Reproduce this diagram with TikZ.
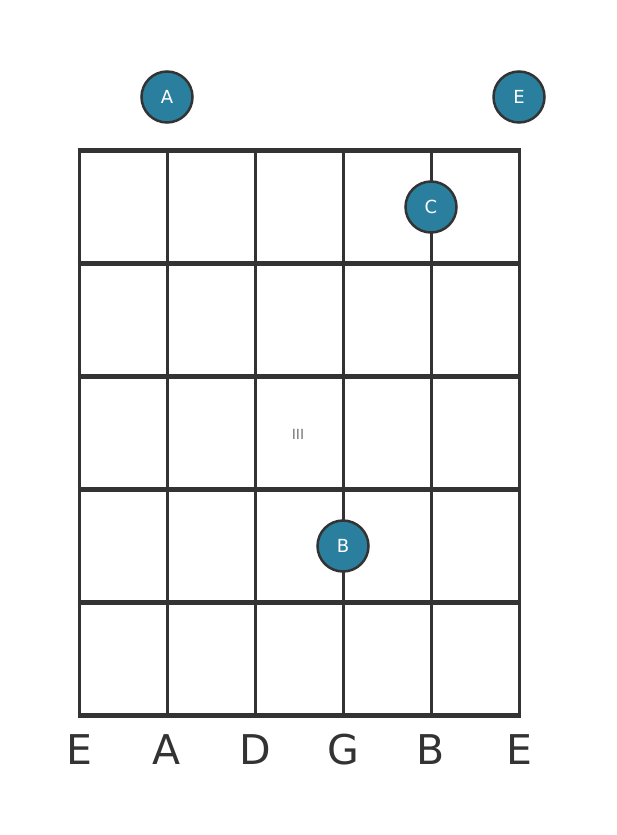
\documentclass[tikz,border=0pt]{standalone}
\usepackage{fontspec}
\setmainfont{DejaVu Sans}
\usepackage{xcolor}
\usetikzlibrary{calc,positioning}
\definecolor{color_line_default}{HTML}{333333}
\definecolor{color_dot_fill}{HTML}{2a7f9e}
\definecolor{color_fret_label}{HTML}{777777}
\tikzset{
	notedot/.style={circle,draw=color_line_default,line width=2.5pt,fill=color_dot_fill,minimum size=51pt,inner sep=0pt,text=white,font=\fontsize{18}{18}\selectfont},
	stringlabel/.style={text=color_line_default,font=\fontsize{41}{41}\selectfont}
}
\begin{document}
\begin{tikzpicture}[scale=1,x=1pt,y=-1pt]
				\useasboundingbox[fill=white] (0, 0) rectangle (617, 835);
				% Corners
				\coordinate (TL) at (79, 150);
				\coordinate (TR) at (519, 150);
				\coordinate (BR) at (519, 715);
				\coordinate (BL) at (79, 715);
		
				% Strings
				\foreach \s in {0,...,5} {
					\draw[line width=3pt, color_line_default]
						($(TL) + (88*\s, 0)$) -- ($(BL) + (88*\s, 0)$);
				}
				% Frets
				\foreach \f in {0,...,5} {
					\draw[line width=5pt, color_line_default]
						($(TL) + (-1.5, 113*\f)$) -- ($(TR) + (1.5, 113*\f)$);
				}
				
				% Fret number
				\node[color_fret_label,font=\fontsize{14}{14}\selectfont] (III) at (298, 434) {III};
				
				% Notes
				\node[notedot] (openA) at (167, 97) {A};
				\node[notedot] (openE) at (519, 97) {E};
				\node[notedot] (noteC) at (431, 207) {C};
				\node[notedot] (noteB) at (343, 546) {B};
				
				% String names
				\foreach \n [count=\i from 0] in {E,A,D,G,B,E} {
					\node[stringlabel] (name\i) at ($(BL) + (88*\i, 35)$) {\n};
				}
			\end{tikzpicture}
\end{document}
